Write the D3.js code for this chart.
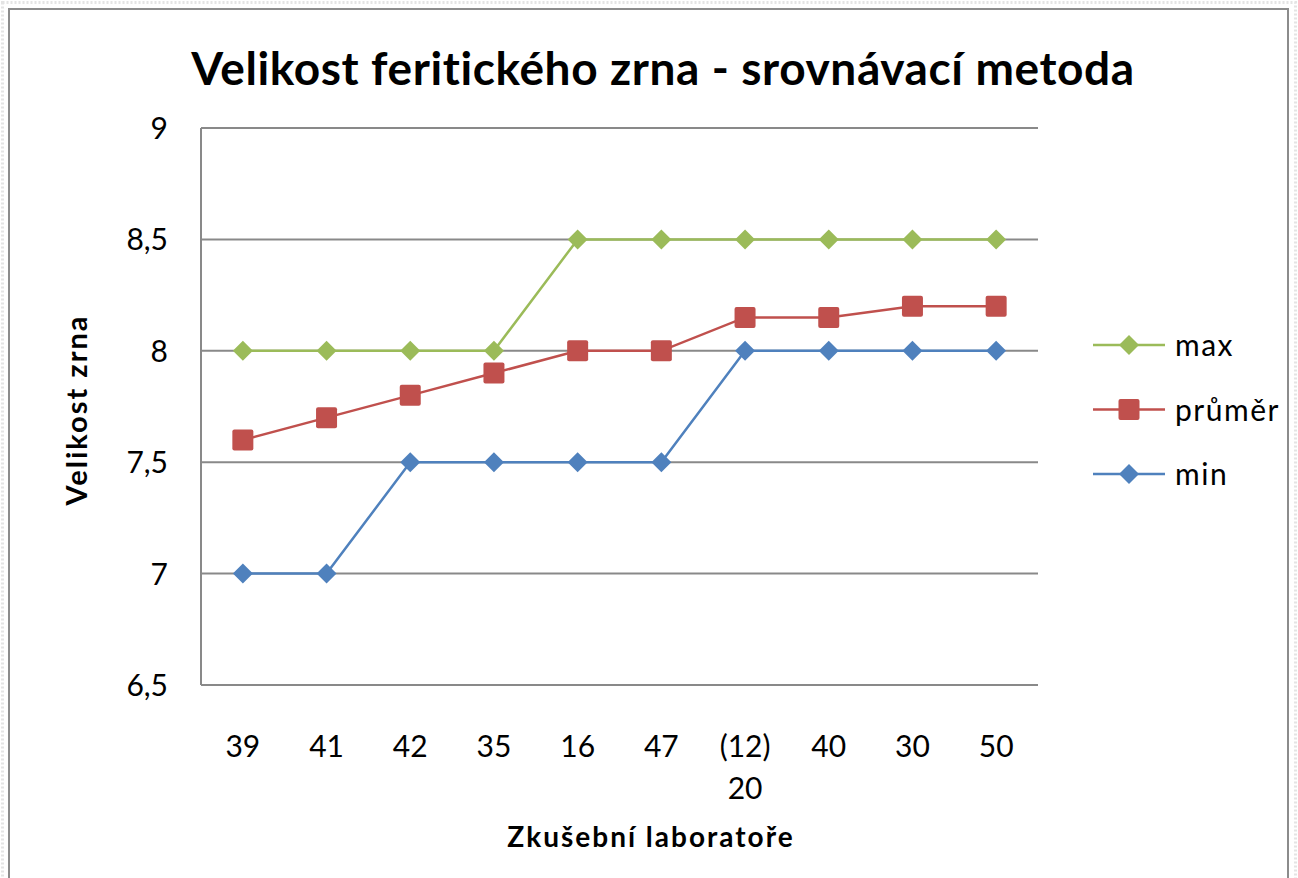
<!DOCTYPE html>
<html>
<head>
<meta charset="utf-8">
<script src="https://cdn.jsdelivr.net/npm/d3@7"></script>
<style>
  body { margin: 0; background: #fff; }
  svg { display: block; font-family: Lato, "Open Sans", sans-serif; }
</style>
</head>
<body>
<svg id="chart" width="1298" height="878"></svg>
<script>
// data
const labs = ["39", "41", "42", "35", "16", "47", "(12) 20", "40", "30", "50"];
const maxVals = [8, 8, 8, 8, 8.5, 8.5, 8.5, 8.5, 8.5, 8.5];
const avgVals = [7.6, 7.7, 7.8, 7.9, 8, 8, 8.15, 8.15, 8.2, 8.2];
const minVals = [7, 7, 7.5, 7.5, 7.5, 7.5, 8, 8, 8, 8];
const yTicks = [6.5, 7, 7.5, 8, 8.5, 9];

const series = [
    {name: "max", values: maxVals, color: "#9BBB59", shape: "diamond"},
    {name: "průměr", values: avgVals, color: "#C0504D", shape: "square"},
    {name: "min", values: minVals, color: "#4F81BD", shape: "diamond"}
];

const svg = d3.select("#chart");
const plot = {left: 201, top: 128, right: 1038, bottom: 685};

// outer frame
svg.append("rect")
    .attr("x", 2.5).attr("y", 2.5).attr("width", 1293).attr("height", 900)
    .attr("fill", "none").attr("stroke", "#e4e4e4").attr("stroke-width", 3)
    .attr("stroke-dasharray", "2,2");
svg.append("rect")
    .attr("x", 9).attr("y", 9).attr("width", 1279).attr("height", 900)
    .attr("fill", "#fff").attr("stroke", "#8c8c8c").attr("stroke-width", 2);

const x = d3.scaleBand().domain(labs).range([plot.left, plot.right]);
const y = d3.scaleLinear().domain([6.5, 9]).range([plot.bottom, plot.top]);

// gridlines
svg.append("g")
    .selectAll("line")
    .data(yTicks)
    .join("line")
    .attr("x1", plot.left).attr("x2", plot.right)
    .attr("y1", d => y(d)).attr("y2", d => y(d))
    .attr("stroke", "#898989").attr("stroke-width", 2);

// left axis line
svg.append("line")
    .attr("x1", plot.left).attr("x2", plot.left)
    .attr("y1", plot.top).attr("y2", plot.bottom)
    .attr("stroke", "#898989").attr("stroke-width", 2);

// y tick labels
svg.append("g")
    .selectAll("text")
    .data(yTicks)
    .join("text")
    .attr("x", 168)
    .attr("y", d => y(d) + 11)
    .attr("text-anchor", "end")
    .style("font-size", "30px")
    .text(d => d3.format("")(d).replace(".", ","));

// x tick labels (wrap on space)
const xl = svg.append("g")
    .selectAll("text")
    .data(labs)
    .join("text")
    .attr("text-anchor", "middle")
    .style("font-size", "30px");
xl.each(function (d) {
    const parts = d.split(" ");
    d3.select(this).selectAll("tspan")
        .data(parts)
        .join("tspan")
        .attr("x", x(d) + x.bandwidth() / 2)
        .attr("y", (p, i) => 757 + i * 42)
        .text(p => p);
});

// lines and markers
const line = d3.line()
    .x((v, i) => x(labs[i]) + x.bandwidth() / 2)
    .y(v => y(v));

const diamond = s => `M0,${-s}L${s},0L0,${s}L${-s},0Z`;

function marker(g, shape, color) {
    if (shape === "square") {
        g.append("rect")
            .attr("x", -10.5).attr("y", -10.5)
            .attr("width", 21).attr("height", 21)
            .attr("rx", 2)
            .attr("fill", color);
    } else {
        g.append("path").attr("d", diamond(10)).attr("fill", color);
    }
}

series.forEach(s => {
    svg.append("path")
        .datum(s.values)
        .attr("d", line)
        .attr("fill", "none")
        .attr("stroke", s.color)
        .attr("stroke-width", 2.5);
    svg.append("g")
        .selectAll("g")
        .data(s.values)
        .join("g")
        .attr("transform", (v, i) => `translate(${x(labs[i]) + x.bandwidth() / 2},${y(v)})`)
        .each(function () { marker(d3.select(this), s.shape, s.color); });
});

// legend
const legend = svg.append("g");
series.forEach((s, i) => {
    const ly = 345 + i * 64.5;
    const g = legend.append("g");
    g.append("line")
        .attr("x1", 1093).attr("x2", 1165)
        .attr("y1", ly).attr("y2", ly)
        .attr("stroke", s.color).attr("stroke-width", 2.5);
    const m = g.append("g").attr("transform", `translate(1129,${ly})`);
    marker(m, s.shape, s.color);
    g.append("text")
        .attr("x", 1175).attr("y", ly + 11)
        .style("font-size", "30px")
        .style("letter-spacing", "1.5px")
        .text(s.name);
});

// title
svg.append("text")
    .attr("x", 663).attr("y", 85)
    .attr("text-anchor", "middle")
    .style("font-size", "46px").style("font-weight", "bold")
    .style("letter-spacing", "0.6px")
    .text("Velikost feritického zrna - srovnávací metoda");

// axis titles
svg.append("text")
    .attr("x", 651).attr("y", 847)
    .attr("text-anchor", "middle")
    .style("font-size", "28px").style("font-weight", "bold")
    .style("letter-spacing", "2px")
    .text("Zkušební laboratoře");

svg.append("text")
    .attr("transform", "translate(87,410) rotate(-90)")
    .attr("text-anchor", "middle")
    .style("font-size", "29px").style("font-weight", "bold")
    .style("letter-spacing", "2px")
    .text("Velikost zrna");
</script>
</body>
</html>
